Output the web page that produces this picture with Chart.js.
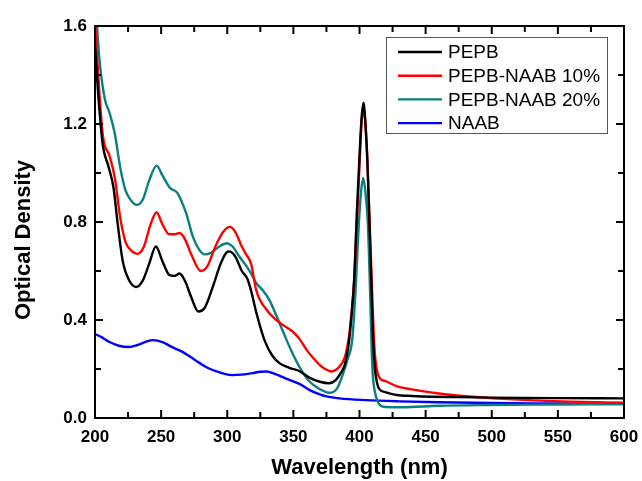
<!DOCTYPE html>
<html>
<head>
<meta charset="utf-8">
<script src="https://cdn.jsdelivr.net/npm/chart.js@4"></script>
<style>
  body { margin: 0; background: #fff; }
  canvas { display: block; }
</style>
</head>
<body>
<canvas id="odChart" width="642" height="481"></canvas>
<script>
// spectra (wavelength nm / optical density)
var pepbX = [200, 203, 206, 210, 214, 217, 221, 226, 231, 236, 241, 246, 251, 256, 260, 264, 268, 273, 278, 283, 290, 295, 301, 306, 311, 315, 318, 322, 328, 334, 340, 347, 355, 362, 370, 377, 382, 386, 389, 392, 394, 396, 398, 400, 401.5, 403, 404.5, 406, 407.5, 409, 410.2, 411.5, 413, 415, 420, 428, 440, 455, 475, 500, 550, 600];
var pepbY = [1.52, 1.28, 1.11, 1.03, 0.94, 0.80, 0.64, 0.56, 0.535, 0.56, 0.63, 0.70, 0.64, 0.585, 0.58, 0.59, 0.56, 0.49, 0.435, 0.45, 0.55, 0.63, 0.68, 0.66, 0.60, 0.57, 0.52, 0.43, 0.32, 0.255, 0.222, 0.205, 0.19, 0.165, 0.148, 0.142, 0.155, 0.185, 0.22, 0.31, 0.42, 0.57, 0.84, 1.07, 1.22, 1.287, 1.2, 1.04, 0.80, 0.55, 0.33, 0.21, 0.15, 0.118, 0.105, 0.094, 0.09, 0.087, 0.085, 0.083, 0.081, 0.080];

var naab10X = [200, 203, 206, 211, 215, 219, 223, 228, 232, 237, 242, 246.6, 251, 256, 260, 264, 268, 273, 280, 285, 291, 297, 302, 306, 311, 314, 318, 322, 330, 336, 342, 350, 355, 360, 365, 370, 374, 379, 384, 389, 392, 394, 396, 398, 400, 401.5, 403, 404.5, 406, 407.5, 409, 410.3, 411.5, 413, 415, 420, 428, 445, 460, 483, 520, 560, 600];
var naab10Y = [1.62, 1.35, 1.15, 1.07, 0.98, 0.82, 0.72, 0.68, 0.67, 0.70, 0.79, 0.84, 0.79, 0.75, 0.75, 0.755, 0.73, 0.665, 0.60, 0.62, 0.70, 0.76, 0.78, 0.76, 0.70, 0.67, 0.63, 0.52, 0.44, 0.405, 0.38, 0.35, 0.32, 0.278, 0.245, 0.216, 0.2, 0.19, 0.205, 0.25, 0.33, 0.43, 0.56, 0.80, 1.03, 1.20, 1.27, 1.20, 1.05, 0.82, 0.60, 0.40, 0.27, 0.20, 0.165, 0.15, 0.13, 0.112, 0.10, 0.088, 0.075, 0.067, 0.062];

var naab20X = [200, 202, 204, 207.5, 211, 215, 219, 223, 227, 231.4, 236, 241, 246.6, 251, 256.6, 262, 265, 269, 274, 279, 283, 288, 294, 299.6, 304, 309, 314.5, 318, 322, 327, 332, 337, 342, 348, 355, 362, 370, 377, 383, 387.5, 391, 394.5, 397, 399.5, 401.3, 402.8, 404.3, 406.3, 408, 409, 410, 411.5, 413.8, 416, 420, 432, 460, 496, 550, 600];
var naab20Y = [1.75, 1.56, 1.43, 1.30, 1.245, 1.16, 1.025, 0.93, 0.89, 0.87, 0.89, 0.97, 1.03, 0.99, 0.94, 0.92, 0.89, 0.835, 0.74, 0.685, 0.668, 0.675, 0.70, 0.713, 0.70, 0.66, 0.62, 0.59, 0.55, 0.52, 0.48, 0.42, 0.355, 0.28, 0.205, 0.15, 0.118, 0.103, 0.12, 0.18, 0.24, 0.32, 0.52, 0.795, 0.93, 0.98, 0.93, 0.795, 0.52, 0.32, 0.18, 0.11, 0.067, 0.05, 0.045, 0.044, 0.05, 0.053, 0.055, 0.057];

var naabX = [200, 205, 211, 218, 226, 232, 238, 244, 251, 258, 265, 272, 279, 285, 292, 298, 304, 311, 319, 325, 330, 336, 345, 355, 362, 370, 375, 385, 405, 430, 460, 500, 550, 600];
var naabY = [0.343, 0.33, 0.31, 0.295, 0.29, 0.298, 0.31, 0.318, 0.31, 0.29, 0.273, 0.25, 0.225, 0.205, 0.19, 0.18, 0.175, 0.177, 0.183, 0.189, 0.19, 0.18, 0.16, 0.138, 0.115, 0.096, 0.088, 0.08, 0.073, 0.068, 0.064, 0.061, 0.059, 0.057];

var seriesNames = ["PEPB", "PEPB-NAAB 10%", "PEPB-NAAB 20%", "NAAB"];
var seriesColors = ["#000000", "#ff0000", "#0b7f7f", "#0000ff"];

var xMin = 200, xMax = 600, xStep = 25, xLabelStep = 50;
var yMin = 0, yMax = 1.6, yStep = 0.2, yLabelStep = 0.4;

function toPoints(xs, ys) {
	var pts = [];
	for (var i = 0; i < xs.length; i++) {
		pts.push({ x : xs[i], y : ys[i] });
	}
	return pts;
}

function isLabelTick(v, step) {
	var r = v / step;
	return Math.abs(r - Math.round(r)) < 1e-6;
}

var allX = [pepbX, naab10X, naab20X, naabX];
var allY = [pepbY, naab10Y, naab20Y, naabY];
var datasets = [];
for (var s = 0; s < seriesNames.length; s++) {
	datasets.push({
		label : seriesNames[s],
		data : toPoints(allX[s], allY[s]),
		borderColor : seriesColors[s],
		backgroundColor : seriesColors[s],
		borderWidth : 2.4,
		pointRadius : 0,
		fill : false,
		cubicInterpolationMode : 'monotone'
	});
}

var boldTick = { family : "'Liberation Sans', Arial, sans-serif", size : 17, weight : 'bold' };

// frame, inward ticks, axis titles and the boxed legend
var framePlugin = {
	id : 'frame',
	afterDraw : function(chart) {
		var ctx = chart.ctx;
		var a = chart.chartArea;
		var xs = chart.scales.x, ys = chart.scales.y;
		ctx.save();
		ctx.strokeStyle = '#000';
		ctx.lineWidth = 2;
		ctx.strokeRect(a.left, a.top, a.right - a.left, a.bottom - a.top);

		ctx.beginPath();
		xs.ticks.forEach(function(t) {
			var px = xs.getPixelForValue(t.value);
			var len = isLabelTick(t.value, xLabelStep) ? 8 : 6;
			ctx.moveTo(px, a.bottom); ctx.lineTo(px, a.bottom - len);
			ctx.moveTo(px, a.top); ctx.lineTo(px, a.top + len);
		});
		ys.ticks.forEach(function(t) {
			var py = ys.getPixelForValue(t.value);
			var len = isLabelTick(t.value, yLabelStep) ? 8 : 6;
			ctx.moveTo(a.left, py); ctx.lineTo(a.left + len, py);
			ctx.moveTo(a.right, py); ctx.lineTo(a.right - len, py);
		});
		ctx.stroke();

		ctx.fillStyle = '#000';
		ctx.font = "bold 22px 'Liberation Sans', Arial, sans-serif";
		ctx.textAlign = 'center';
		ctx.textBaseline = 'middle';
		ctx.fillText('Wavelength (nm)', (a.left + a.right) / 2, 468);
		ctx.save();
		ctx.translate(24, 240);
		ctx.rotate(-Math.PI / 2);
		ctx.fillText('Optical Density', 0, 0);
		ctx.restore();

		// legend
		var bx = 386, by = 37, bw = 221, bh = 96;
		ctx.lineWidth = 1;
		ctx.strokeStyle = '#555';
		ctx.fillStyle = '#fff';
		ctx.fillRect(bx, by, bw, bh);
		ctx.strokeRect(bx + 0.5, by + 0.5, bw, bh);
		ctx.font = "19px 'Liberation Sans', Arial, sans-serif";
		ctx.textAlign = 'left';
		chart.data.datasets.forEach(function(ds, i) {
			var cy = 52 + i * 23.7;
			ctx.strokeStyle = ds.borderColor;
			ctx.lineWidth = 2.4;
			ctx.beginPath();
			ctx.moveTo(398, cy); ctx.lineTo(442, cy);
			ctx.stroke();
			ctx.fillStyle = '#000';
			ctx.fillText(ds.label, 448, cy + 1);
		});
		ctx.restore();
	}
};

var odChart = new Chart(document.getElementById('odChart'), {
	type : 'line',
	data : { datasets : datasets },
	options : {
		responsive : false,
		animation : false,
		devicePixelRatio : 1,
		layout : { padding : 0 },
		plugins : {
			legend : { display : false },
			tooltip : { enabled : false }
		},
		scales : {
			x : {
				type : 'linear', position : 'bottom', min : xMin, max : xMax,
				grid : { display : false, drawTicks : false },
				border : { display : false },
				ticks : {
					stepSize : xStep, padding : 9, color : '#000', font : boldTick,
					maxRotation : 0, autoSkip : false,
					callback : function(v) { return isLabelTick(v, xLabelStep) ? String(v) : ''; }
				},
				afterFit : function(scale) {
					scale.height = 63;
					scale.paddingLeft = 0;
					scale.paddingRight = 0;
				}
			},
			xTop : {
				type : 'linear', position : 'top', min : xMin, max : xMax,
				grid : { display : false, drawTicks : false },
				border : { display : false },
				ticks : { display : false },
				afterFit : function(scale) { scale.height = 26; }
			},
			y : {
				type : 'linear', position : 'left', min : yMin, max : yMax,
				grid : { display : false, drawTicks : false },
				border : { display : false },
				ticks : {
					stepSize : yStep, padding : 8, color : '#000', font : boldTick, autoSkip : false,
					callback : function(v) { return isLabelTick(v, yLabelStep) ? v.toFixed(1) : ''; }
				},
				afterFit : function(scale) {
					scale.width = 95;
					scale.paddingTop = 0;
					scale.paddingBottom = 0;
				}
			},
			yRight : {
				type : 'linear', position : 'right', min : yMin, max : yMax,
				grid : { display : false, drawTicks : false },
				border : { display : false },
				ticks : { display : false },
				afterFit : function(scale) { scale.width = 18; }
			}
		}
	},
	plugins : [ framePlugin ]
});
</script>
</body>
</html>
